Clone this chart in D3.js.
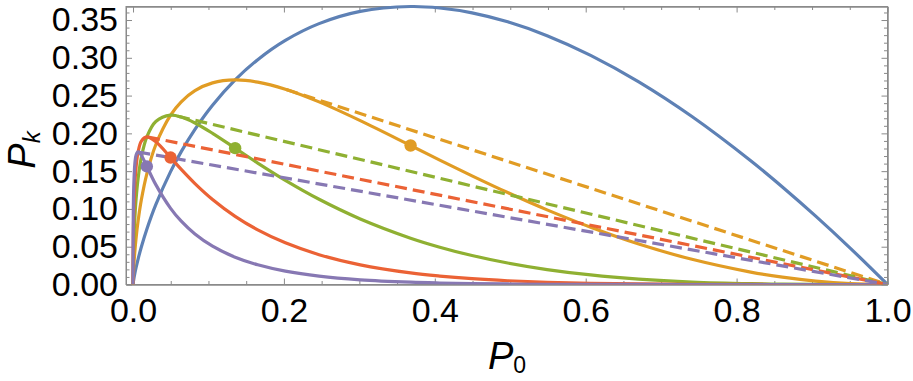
<!DOCTYPE html>
<html><head><meta charset="utf-8">
<script src="https://cdn.jsdelivr.net/npm/d3@7"></script>
<style>body{margin:0;background:#fff}svg{display:block}</style>
</head><body><svg id="c" width="913" height="381"></svg>
<script>
// P0 values (shared abscissa)
const P0 = [1, 0.951229, 0.904837, 0.860708, 0.818731, 0.740818, 0.670320, 0.606531, 0.548812, 0.496585, 0.449329, 0.406570, 0.367879, 0.301194, 0.246597, 0.201897, 0.165299, 0.135335, 0.105399, 0.082085, 0.063928, 0.049787, 0.030197, 0.018316, 0.011109, 0.006738, 0.004087, 0.002479, 0.000912, 0.000335, 0.000123, 0.0000454, 0.0000061, 0.0000008, 0];
const P1 = [0, 0.047561, 0.090484, 0.129106, 0.163746, 0.222245, 0.268128, 0.303265, 0.329287, 0.347610, 0.359463, 0.365913, 0.367879, 0.361433, 0.345236, 0.323035, 0.297538, 0.270671, 0.237148, 0.205212, 0.175802, 0.149361, 0.105691, 0.073263, 0.049990, 0.033690, 0.022477, 0.014873, 0.006383, 0.002684, 0.001111, 0.000454, 0.000074, 0.000012, 0];
const P2 = [0, 0.001189, 0.004524, 0.009683, 0.016375, 0.033337, 0.053626, 0.075816, 0.098786, 0.121663, 0.143785, 0.164661, 0.183940, 0.216860, 0.241665, 0.258428, 0.267784, 0.270671, 0.266792, 0.256516, 0.241728, 0.224042, 0.184959, 0.146525, 0.112479, 0.084224, 0.061812, 0.044618, 0.022341, 0.010735, 0.004998, 0.002270, 0.000442, 0.000082, 0];
const P3 = [0, 0.000020, 0.000151, 0.000484, 0.001092, 0.003334, 0.007150, 0.012636, 0.019757, 0.028388, 0.038343, 0.049398, 0.061313, 0.086744, 0.112777, 0.137828, 0.160671, 0.180447, 0.200094, 0.213763, 0.221584, 0.224042, 0.215785, 0.195367, 0.168718, 0.140374, 0.113323, 0.089235, 0.052129, 0.028626, 0.014994, 0.007567, 0.001770, 0.000380, 0];
const P4 = [0, 0.0000002, 0.0000038, 0.0000182, 0.0000546, 0.000250, 0.000715, 0.001580, 0.002964, 0.004968, 0.007669, 0.011115, 0.015328, 0.026023, 0.039472, 0.055131, 0.072302, 0.090224, 0.112553, 0.133602, 0.152339, 0.168031, 0.188812, 0.195367, 0.189808, 0.175467, 0.155819, 0.133853, 0.091226, 0.057252, 0.033737, 0.018917, 0.005309, 0.001330, 0];
const P5 = [0, 0, 0.0000001, 0.0000005, 0.000002, 0.000015, 0.000057, 0.000158, 0.000356, 0.000696, 0.001227, 0.002001, 0.003066, 0.006246, 0.011052, 0.017642, 0.026029, 0.036089, 0.050649, 0.066801, 0.083786, 0.100819, 0.132167, 0.156293, 0.170827, 0.175467, 0.171400, 0.160623, 0.127717, 0.091604, 0.060727, 0.037833, 0.012741, 0.003727, 0];

// dashed lines (k = 2..5): from tangent point to end point
const dashStartX = [0.2032, 0.0595, 0.01983, 0.006977];
const dashStartY = [0.2580, 0.2227, 0.1952, 0.1754];
const dashEnd = [1, 0];
// dots (k = 2..5)
const dotX = [0.367879, 0.135335, 0.049787, 0.018316];
const dotY = [0.183940, 0.180447, 0.168031, 0.156293];

const xTicks = [0, 0.2, 0.4, 0.6, 0.8, 1.0];
const xTickLabels = ["0.0", "0.2", "0.4", "0.6", "0.8", "1.0"];
const yTicks = [0, 0.05, 0.10, 0.15, 0.20, 0.25, 0.30, 0.35];
const yTickLabels = ["0.00", "0.05", "0.10", "0.15", "0.20", "0.25", "0.30", "0.35"];

const colors = ["#5E81B5", "#E19C24", "#8FB032", "#EB6235", "#8778B3"];
const series = [P1, P2, P3, P4, P5];

const svg = d3.select("#c");
const L = 126, R = 887.5, T = 6.5, B = 284.5;
const x = d3.scaleLinear().domain([-0.0093, 1]).range([L, R]);
const y = d3.scaleLinear().domain([0, 0.3679]).range([B, T]);

svg.append("defs").append("clipPath").attr("id", "clip")
  .append("rect").attr("x", L).attr("y", T - 3).attr("width", R - L + 2).attr("height", B - T + 3);

const frameColor = "#8a8a8a";
const font = "'Liberation Sans', Arial, sans-serif";

const xMinor = d3.range(0, 1.0001, 0.05).filter(v => !xTicks.some(t => Math.abs(t - v) < 1e-9));
const yMinor = d3.range(0, 0.3601, 0.01).filter(v => !yTicks.some(t => Math.abs(t - v) < 1e-9));

function styleAxis(g) {
  g.select(".domain").attr("stroke", frameColor).attr("stroke-width", 1);
  g.selectAll(".tick line").attr("stroke", frameColor).attr("stroke-width", 1);
  g.selectAll("text").attr("fill", "#000").style("font-family", font).style("font-size", "34px");
}

// bottom
svg.append("g").attr("transform", `translate(0,${B})`)
  .call(d3.axisBottom(x).tickValues(xTicks).tickFormat((d, i) => xTickLabels[i]).tickSize(-6).tickSizeOuter(0).tickPadding(13))
  .call(styleAxis);
svg.append("g").attr("transform", `translate(0,${B})`)
  .call(d3.axisBottom(x).tickValues(xMinor).tickFormat("").tickSize(-3.5).tickSizeOuter(0))
  .call(styleAxis);
// top
svg.append("g").attr("transform", `translate(0,${T})`)
  .call(d3.axisTop(x).tickValues(xTicks).tickFormat("").tickSize(-6).tickSizeOuter(0))
  .call(styleAxis);
svg.append("g").attr("transform", `translate(0,${T})`)
  .call(d3.axisTop(x).tickValues(xMinor).tickFormat("").tickSize(-3.5).tickSizeOuter(0))
  .call(styleAxis);
// left
svg.append("g").attr("transform", `translate(${L},0)`)
  .call(d3.axisLeft(y).tickValues(yTicks).tickFormat((d, i) => yTickLabels[i]).tickSize(-6).tickSizeOuter(0).tickPadding(8))
  .call(styleAxis);
svg.append("g").attr("transform", `translate(${L},0)`)
  .call(d3.axisLeft(y).tickValues(yMinor).tickFormat("").tickSize(-3.5).tickSizeOuter(0))
  .call(styleAxis);
// right
svg.append("g").attr("transform", `translate(${R},0)`)
  .call(d3.axisRight(y).tickValues(yTicks).tickFormat("").tickSize(-6).tickSizeOuter(0))
  .call(styleAxis);
svg.append("g").attr("transform", `translate(${R},0)`)
  .call(d3.axisRight(y).tickValues(yMinor).tickFormat("").tickSize(-3.5).tickSizeOuter(0))
  .call(styleAxis);

svg.append("rect").attr("x", L).attr("y", T).attr("width", R - L).attr("height", B - T)
  .attr("fill", "none").attr("stroke", frameColor).attr("stroke-width", 1);

const plot = svg.append("g").attr("clip-path", "url(#clip)");
const line = d3.line().x(d => x(d[0])).y(d => y(d[1])).curve(d3.curveCatmullRom.alpha(0.5));

series.forEach((s, i) => {
  plot.append("path").datum(P0.map((p, j) => [p, s[j]]))
    .attr("d", line).attr("fill", "none").attr("stroke", colors[i])
    .attr("stroke-width", 3.2).attr("stroke-linejoin", "round");
});

dashStartX.forEach((sx, i) => {
  plot.append("path").datum([[sx, dashStartY[i]], dashEnd])
    .attr("d", d3.line().x(d => x(d[0])).y(d => y(d[1])))
    .attr("fill", "none").attr("stroke", colors[i + 1]).attr("stroke-width", 3.2)
    .attr("stroke-dasharray", "12,6");
});

dotX.forEach((dx, i) => {
  plot.append("circle").attr("cx", x(dx)).attr("cy", y(dotY[i])).attr("r", 6.2)
    .attr("fill", colors[i + 1]);
});

// axis labels
const xl = svg.append("text").attr("x", 507).attr("y", 369).attr("text-anchor", "middle")
  .style("font-family", font).style("font-size", "38px").attr("fill", "#000");
xl.append("tspan").text("P").style("font-style", "italic");
xl.append("tspan").text("0").attr("dy", 4).style("font-size", "23px");

const yl = svg.append("text").attr("transform", "translate(35,150) rotate(-90)").attr("text-anchor", "middle")
  .style("font-family", font).style("font-size", "38px").attr("fill", "#000");
yl.append("tspan").text("P").style("font-style", "italic");
yl.append("tspan").text("k").attr("dy", 5).style("font-size", "24px").style("font-style", "italic");
</script></body></html>
